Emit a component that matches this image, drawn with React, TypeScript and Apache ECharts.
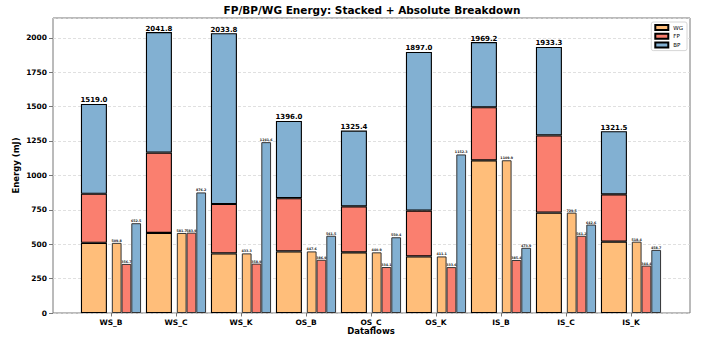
import React, { useEffect, useRef } from "react";
import * as echarts from "echarts";

const categories = ["WS_B", "WS_C", "WS_K", "OS_B", "OS_C", "OS_K", "IS_B", "IS_C", "IS_K"];
const wgValues = [509.8, 581.7, 433.3, 447.6, 440.9, 411.1, 1109.9, 729.5, 518.4];
const fpValues = [356.7, 583.9, 358.9, 386.9, 334.1, 333.6, 385.4, 561.2, 344.4];
const bpValues = [652.5, 876.2, 1241.6, 561.5, 550.4, 1152.3, 473.9, 642.6, 458.7];
const yTicks = [0, 250, 500, 750, 1000, 1250, 1500, 1750, 2000];

const COLORS = { WG: "#FFBE7A", FP: "#FA7F6F", BP: "#82B0D2" };
const FONT = "DejaVu Sans";

export default function App() {
  const ref = useRef<HTMLDivElement>(null);
  useEffect(() => {
    if (!ref.current) return;
    const chart = echarts.init(ref.current, null, { renderer: "svg" });
    const totals = categories.map((_, i) => wgValues[i] + fpValues[i] + bpValues[i]);
    const yMax = Math.max(...totals) * 1.05;
    const stackW = 26;
    const sideW = 9.75;
    const stacked = (name: string, data: number[], color: string, top: boolean) => ({
      name,
      type: "bar",
      xAxisIndex: 1,
      yAxisIndex: 1,
      stack: "total",
      barWidth: stackW,
      barGap: "0%",
      data,
      itemStyle: { color, borderColor: "#000", borderWidth: 1.1 },
      label: top
        ? {
            show: true,
            position: "top",
            distance: 0,
            fontFamily: FONT,
            fontSize: 7,
            fontWeight: "bold",
            color: "#000",
            formatter: (p: any) => totals[p.dataIndex].toFixed(1),
          }
        : { show: false },
      z: 3,
    });
    const side = (name: string, data: number[], color: string) => ({
      name,
      type: "bar",
      xAxisIndex: 1,
      yAxisIndex: 1,
      barWidth: sideW,
      barGap: "0%",
      data,
      itemStyle: { color, borderColor: "#333", borderWidth: 1 },
      label: {
        show: true,
        position: "top",
        distance: 0.5,
        fontFamily: FONT,
        fontSize: 3.3,
        fontWeight: "bold",
        color: "#222",
        formatter: (p: any) => Number(p.value).toFixed(1),
      },
      z: 3,
    });
    chart.setOption({
      animation: false,
      textStyle: { fontFamily: FONT },
      graphic: [
        {
          type: "text",
          x: 372,
          y: 10,
          style: {
            text: "FP/BP/WG Energy: Stacked + Absolute Breakdown",
            fontFamily: FONT,
            fontSize: 10.5,
            fontWeight: "bold",
            fill: "#000",
            textAlign: "center",
            textVerticalAlign: "middle",
          },
        },
      ],
      legend: {
        data: ["WG", "FP", "BP"],
        orient: "vertical",
        right: 27,
        top: 22,
        itemWidth: 13,
        itemHeight: 5,
        itemGap: 1.8,
        padding: [2, 4, 2, 3],
        icon: "rect",
        backgroundColor: "#fff",
        borderColor: "#ccc",
        borderWidth: 0.8,
        borderRadius: 2,
        textStyle: { fontFamily: FONT, fontSize: 5.5, color: "#000" },
      },
      grid: [
        {
          left: 53,
          right: 24,
          top: 18,
          bottom: 24,
          show: true,
          borderColor: "#777",
          borderWidth: 1,
          backgroundColor: "transparent",
          outerBoundsMode: "none",
          containLabel: false,
        },
        { left: 78.5, width: 585, top: 18, bottom: 24, outerBoundsMode: "none", containLabel: false },
      ],
      xAxis: [
        { gridIndex: 0, type: "value", min: 0, max: 1, show: false },
        {
          gridIndex: 1,
          type: "category",
          data: categories,
          axisLine: { show: false },
          axisTick: { show: true, alignWithLabel: true, length: 3.5, lineStyle: { color: "#777" } },
          axisLabel: { fontFamily: FONT, fontSize: 7.5, fontWeight: "bold", color: "#000", margin: 5 },
          name: "Dataflows",
          nameLocation: "middle",
          nameGap: 13,
          nameMoveOverlap: false,
          nameTextStyle: { fontFamily: FONT, fontSize: 8.5, fontWeight: "bold", color: "#000" },
        },
      ],
      yAxis: [
        {
          gridIndex: 0,
          type: "value",
          min: 0,
          max: yMax,
          interval: 250,
          axisLine: { show: false },
          axisTick: { show: true, length: 4, lineStyle: { color: "#777" } },
          axisLabel: {
            fontFamily: FONT,
            fontSize: 7.5,
            fontWeight: "bold",
            color: "#000",
            margin: 6,
            showMaxLabel: false,
            formatter: (v: number) => (yTicks.includes(v) ? String(v) : ""),
          },
          splitLine: { show: true, lineStyle: { color: "#d8d8d8", type: [3, 2], width: 0.8 } },
          name: "Energy (mJ)",
          nameLocation: "middle",
          nameGap: 33,
          nameMoveOverlap: false,
          nameTextStyle: { fontFamily: FONT, fontSize: 8.5, fontWeight: "bold", color: "#000" },
        },
        { gridIndex: 1, type: "value", min: 0, max: yMax, show: false },
      ],
      series: [
        stacked("WG", wgValues, COLORS.WG, false),
        stacked("FP", fpValues, COLORS.FP, false),
        stacked("BP", bpValues, COLORS.BP, true),
        {
          name: "spacer",
          type: "bar",
          xAxisIndex: 1,
          yAxisIndex: 1,
          barWidth: 4.9,
          barGap: "0%",
          data: categories.map(() => 0),
          itemStyle: { color: "transparent" },
          silent: true,
        },
        side("WG abs", wgValues, COLORS.WG),
        side("FP abs", fpValues, COLORS.FP),
        side("BP abs", bpValues, COLORS.BP),
      ],
    });
    return () => chart.dispose();
  }, []);
  return <div ref={ref} style={{ width: 714, height: 337, position: "absolute", left: 0, top: 0 }} />;
}
